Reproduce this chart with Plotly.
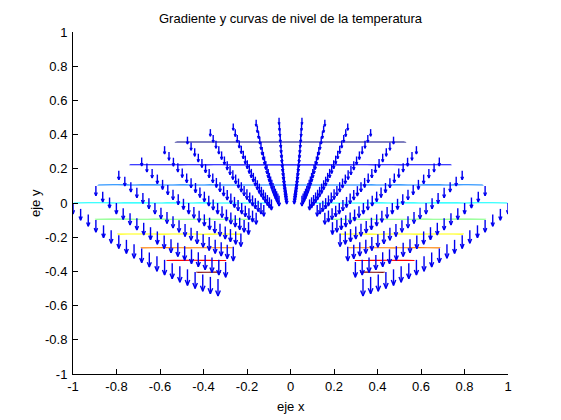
import numpy as np
import plotly.graph_objects as go

# ---------------- data ----------------
title_text = "Gradiente y curvas de nivel de la temperatura"
x_label = "eje x"
y_label = "eje y"
tick_vals = [-1, -0.8, -0.6, -0.4, -0.2, 0, 0.2, 0.4, 0.6, 0.8, 1]
tick_text = ["-1", "-0.8", "-0.6", "-0.4", "-0.2", "0", "0.2", "0.4", "0.6", "0.8", "1"]

# parabolic-coordinate grid (sigma, tau): x = sigma*tau, y = (tau^2 - sigma^2)/2
sigma = np.linspace(-1.0, 1.0, 20)
tau = np.linspace(1.0 / 3.0, 1.0, 20)

# contour levels of the temperature
levels = [0.7, 0.8, 0.9, 1.0, 1.1, 1.2, 1.3, 1.4, 1.5]


def temperature(y):
    return np.exp(-y)


def grad_temperature(y):
    return np.zeros_like(y), -np.exp(-y)


# ---------------- build ----------------
S, TAU = np.meshgrid(sigma, tau)
X = S * TAU
Y = (TAU ** 2 - S ** 2) / 2.0
TEMP = temperature(Y)
U, V = grad_temperature(Y)

# MATLAB-like quiver autoscale
n = len(sigma)
m = len(tau)
delx = (X.max() - X.min()) / n
dely = (Y.max() - Y.min()) / m
del2 = delx ** 2 + dely ** 2
maxlen = np.sqrt((U ** 2 + V ** 2) / del2).max()
scale = 0.9 / maxlen
Us = U * scale
Vs = V * scale

alpha, beta = 0.33, 0.33
qx, qy = [], []
for x0, y0, u, v in zip(X.ravel(), Y.ravel(), Us.ravel(), Vs.ravel()):
    x1, y1 = x0 + u, y0 + v
    qx += [x0, x1, None]
    qy += [y0, y1, None]
    hx = [x1 - alpha * (u + beta * v), x1, x1 - alpha * (u - beta * v)]
    hy = [y1 - alpha * (v - beta * u), y1, y1 - alpha * (v + beta * u)]
    qx += hx + [None]
    qy += hy + [None]

jet = [
    [0.0, "rgb(0,0,128)"],
    [0.125, "rgb(0,0,255)"],
    [0.375, "rgb(0,255,255)"],
    [0.625, "rgb(255,255,0)"],
    [0.875, "rgb(255,0,0)"],
    [1.0, "rgb(128,0,0)"],
]

fig = go.Figure()

hidden_axis = dict(
    showgrid=False, showline=False, showticklabels="none", startline=False,
    endline=False, smoothing=0, minorgridcount=0, gridcolor="rgba(0,0,0,0)",
)
fig.add_trace(go.Carpet(
    a=sigma, b=tau, x=X, y=Y, carpet="c1",
    aaxis=hidden_axis, baxis=hidden_axis,
))
fig.add_trace(go.Contourcarpet(
    a=sigma, b=tau, z=TEMP, carpet="c1",
    autocontour=False,
    contours=dict(start=levels[0], end=levels[-1], size=round(levels[1] - levels[0], 6),
                  coloring="lines", showlabels=False),
    colorscale=jet, zmin=levels[0], zmax=levels[-1], zauto=False,
    showscale=False, line=dict(width=1.1),
))
fig.add_trace(go.Scatter(
    x=qx, y=qy, mode="lines",
    line=dict(color="rgb(0,0,240)", width=1.4),
    hoverinfo="skip", showlegend=False,
))

font = dict(family="Liberation Sans, Arial, Helvetica, sans-serif", size=13, color="black")
axis_common = dict(
    range=[-1, 1], tickmode="array", tickvals=tick_vals, ticktext=tick_text,
    ticks="inside", ticklen=5, tickcolor="black", tickwidth=1,
    showline=True, linecolor="black", linewidth=1, mirror=False,
    showgrid=False, zeroline=False, tickfont=font,
)
# the page adds an 8px body margin; compensate so the axes land at 73..508 x 32..374
fig.update_layout(
    width=561, height=420,
    margin=dict(l=65, r=61, t=24, b=54, pad=0),
    paper_bgcolor="white", plot_bgcolor="white",
    showlegend=False,
    font=font,
    xaxis=dict(axis_common),
    yaxis=dict(axis_common, ticklabelstandoff=2),
    title=dict(text=title_text, x=0.5, xref="paper", y=1 - 10 / 420, yref="container",
               xanchor="center", yanchor="middle", font=font),
    annotations=[
        dict(text=x_label, x=0.5, y=-(406 - 374) / 342, xref="paper", yref="paper",
             xanchor="center", yanchor="middle", showarrow=False, font=font),
        dict(text=y_label, x=(35 - 73) / 435, y=0.5, xref="paper", yref="paper",
             xanchor="center", yanchor="middle", showarrow=False, textangle=-90, font=font),
    ],
)

fig.write_html("out.html")
